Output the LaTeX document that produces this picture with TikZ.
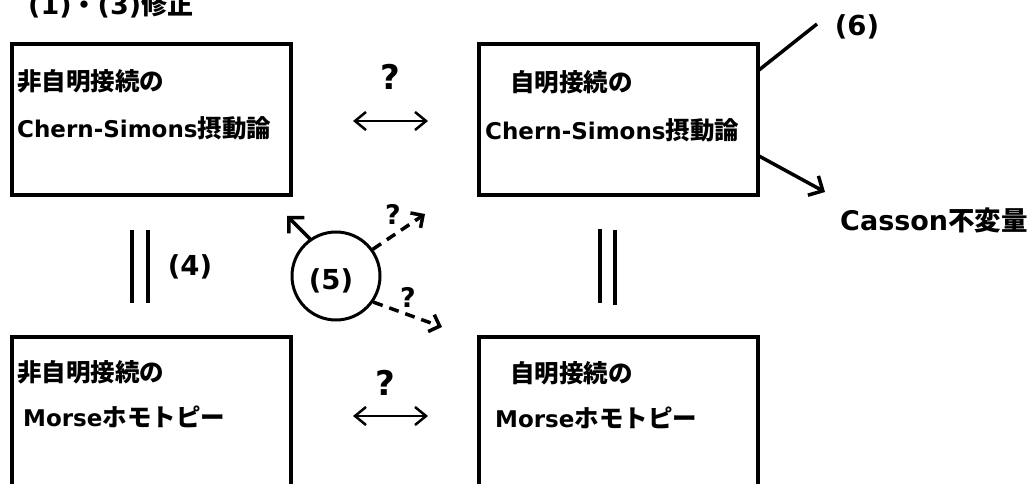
\documentclass[tikz,border=0pt]{standalone}
\usepackage{fontspec}
\setmainfont{DejaVu Sans}
\newfontfamily\jp{Noto Sans CJK JP}
\usetikzlibrary{arrows.meta}
\newcommand{\J}[1]{{\jp\fontsize{24.5}{28}\selectfont #1}}
\newcommand{\JJ}[2]{{\jp\fontsize{#1}{28}\selectfont #2}}
\begin{document}
\begin{tikzpicture}[x=1pt,y=-1pt,
  font=\bfseries\fontsize{23}{27}\selectfont,
  box/.style={draw, line width=4pt, minimum width=279pt, minimum height=151pt, inner sep=0pt},
  txt/.style={anchor=west, inner sep=0pt},
  lbl/.style={inner sep=0pt, font=\bfseries\fontsize{27.5}{30}\selectfont},
  bigq/.style={inner sep=0pt, font=\bfseries\fontsize{34}{36}\selectfont},
  small/.style={inner sep=0pt, font=\bfseries\fontsize{27}{29}\selectfont},
  eqbar/.style={line width=4pt},
  dbl/.style={line width=2.5pt, {Straight Barb[length=11pt,width=18pt]}-{Straight Barb[length=11pt,width=18pt]}},
  solidarr/.style={line width=3.5pt, line cap=round, -{Straight Barb[length=11pt,width=22pt]}},
  dasharr/.style={line width=3.5pt, dash pattern=on 10pt off 7pt, -{Straight Barb[length=9pt,width=18pt]}}
]
\useasboundingbox (0,0) rectangle (1029,484);
\clip (0,0) rectangle (1029,484);
\fill[white] (0,0) rectangle (1029,484);

% title
\node[anchor=base west, inner sep=0pt, font=\bfseries\fontsize{27}{30}\selectfont] (title) at (28,15) {(1)\JJ{26}{・}(3)\JJ{26}{修正}};

% boxes
\node[box] (tl) at (151.5,119.5) {};
\node[box] (tr) at (618.5,120) {};
\node[box] (bl) at (151.5,412.5) {};
\node[box] (br) at (618,412.5) {};

% box texts
\node[txt] (tl1) at (17,81) {\J{非自明接続の}};
\node[txt] (tl2) at (17,128) {Chern-Simons\J{摂動論}};
\node[txt] (tr1) at (510,82) {\J{自明接続の}};
\node[txt] (tr2) at (485,130) {Chern-Simons\J{摂動論}};
\node[txt] (bl1) at (17,372) {\J{非自明接続の}};
\node[txt] (bl2) at (23,417) {Morse\J{ホモトピー}};
\node[txt] (br1) at (510,373) {\J{自明接続の}};
\node[txt] (br2) at (495,418) {Morse\J{ホモトピー}};

% top double arrow with ?
\node[bigq] (q1) at (390,77) {?};
\coordinate (a1l) at (353,121);
\coordinate (a1r) at (428,121);
\draw[dbl] (a1l) -- (a1r);

% bottom double arrow with ?
\node[bigq] (q2) at (385,383) {?};
\coordinate (a2l) at (353,416);
\coordinate (a2r) at (428,416);
\draw[dbl] (a2l) -- (a2r);

% equality bars
\coordinate (e1a) at (132,230); \coordinate (e1b) at (132,303);
\coordinate (e2a) at (148,230); \coordinate (e2b) at (148,303);
\draw[eqbar] (e1a) -- (e1b);
\draw[eqbar] (e2a) -- (e2b);
\node[lbl] (n4) at (190,267) {(4)};

\coordinate (e3a) at (600,229); \coordinate (e3b) at (600,303);
\coordinate (e4a) at (615,230); \coordinate (e4b) at (615,305);
\draw[eqbar] (e3a) -- (e3b);
\draw[eqbar] (e4a) -- (e4b);

% circle (5)
\node[draw, circle, line width=3pt, minimum size=88pt, inner sep=0pt] (c5) at (336,276) {};
\node[lbl] (n5) at (331,281) {(5)};
\coordinate (t1) at (287,216);
\coordinate (t2) at (425,214);
\coordinate (t3) at (442,327);
\draw[solidarr] (c5.125) -- (t1);
\draw[dasharr] (c5.36) -- (t2);
\draw[dasharr] (c5.-35) -- (t3);
\node[small] (q3) at (393,214) {?};
\node[small] (q4) at (408,297) {?};

% (6) and Casson
\node[lbl] (n6) at (857,27) {(6)};
\coordinate (s6) at (759,70);
\coordinate (e6) at (817,24);
\draw[line width=3.5pt] (s6) -- (e6);
\node[anchor=west, inner sep=0pt, font=\bfseries\fontsize{27}{30}\selectfont] (cas) at (840,220) {Casson\JJ{26.5}{不変量}};
\coordinate (sc) at (759,156);
\coordinate (ec) at (825,192);
\draw[solidarr] (sc) -- (ec);
\end{tikzpicture}
\end{document}
